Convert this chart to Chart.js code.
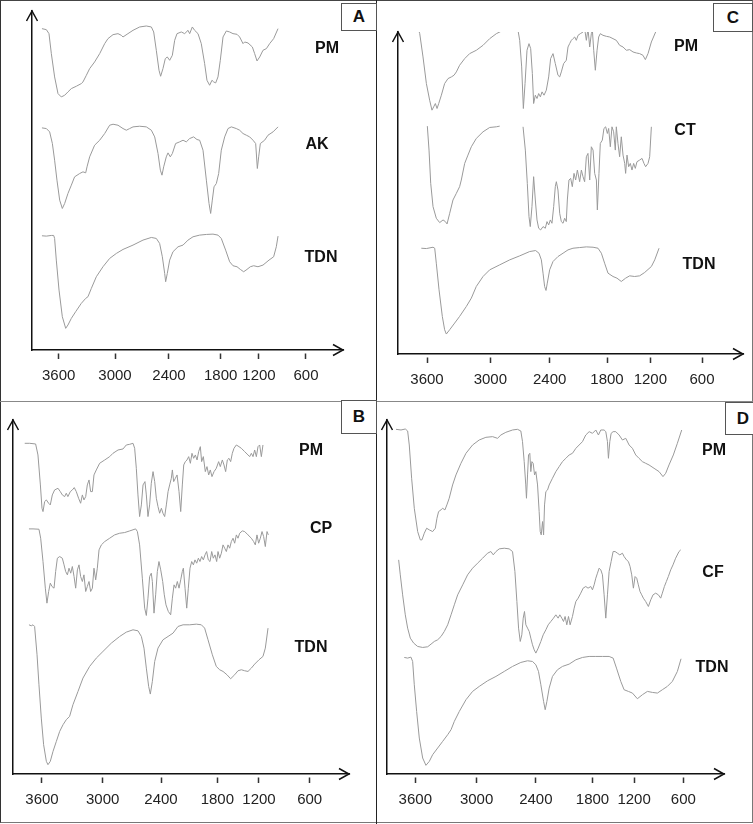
<!DOCTYPE html>
<html>
<head>
<meta charset="utf-8">
<script src="https://cdn.jsdelivr.net/npm/chart.js@4.4.1/dist/chart.umd.min.js"></script>
<style>
  html, body { margin: 0; padding: 0; background: #fff; }
  body { width: 753px; height: 824px; position: relative; overflow: hidden; font-family: "Liberation Sans", Arial, sans-serif; }
  canvas { position: absolute; }
  .line { position: absolute; }
  .name { position: absolute; font-weight: bold; font-size: 16px; color: #111; transform: translate(-50%, -50%); white-space: nowrap; }
  .box { position: absolute; box-sizing: border-box; border: 1px solid #555; background: #fff; font-weight: bold; font-size: 17px; color: #111; display: flex; align-items: center; justify-content: center; }
</style>
</head>
<body>
<div class="line" style="left:0;top:0;width:751px;height:821px;border:1px solid #777;border-left-color:#333;border-top-color:#444;"></div>
<div class="line" style="left:376px;top:0;width:1px;height:824px;background:#222;"></div>
<div class="line" style="left:0;top:401px;width:753px;height:1px;background:#888;"></div>

<canvas id="chartA" width="376" height="400" style="left:0;top:0;"></canvas>
<canvas id="chartC" width="377" height="400" style="left:376px;top:0;"></canvas>
<canvas id="chartB" width="376" height="420" style="left:0;top:402px;"></canvas>
<canvas id="chartD" width="376" height="420" style="left:377px;top:402px;"></canvas>

<div class="box" style="left:341px;top:3px;width:36px;height:28px;">A</div>
<div class="box" style="left:713px;top:3px;width:40px;height:29px;">C</div>
<div class="box" style="left:341px;top:400px;width:36px;height:34px;">B</div>
<div class="box" style="left:725px;top:402px;width:36px;height:33px;">D</div>

<div class="name" style="left:327px;top:48px;">PM</div>
<div class="name" style="left:317px;top:144px;">AK</div>
<div class="name" style="left:321px;top:257px;">TDN</div>
<div class="name" style="left:686px;top:46px;">PM</div>
<div class="name" style="left:685px;top:130px;">CT</div>
<div class="name" style="left:699px;top:264px;">TDN</div>
<div class="name" style="left:311px;top:450px;">PM</div>
<div class="name" style="left:321px;top:528px;">CP</div>
<div class="name" style="left:311px;top:647px;">TDN</div>
<div class="name" style="left:714px;top:450px;">PM</div>
<div class="name" style="left:713px;top:572px;">CF</div>
<div class="name" style="left:712px;top:667px;">TDN</div>

<script>
// wavenumber tick labels (cm-1), same on all four panels
const tickLabels = [3600, 3000, 2400, 1800, 1200, 600];

// spectra: [wavenumber, transmittance (a.u., offset stack)]
// Panel A
const A_PM = [[3778,96.5],[3731,96.2],[3703,95.0],[3678,89.0],[3643,82.0],[3607,77.0],[3572,76.0],[3536,76.5],[3501,77.5],[3465,78.5],[3412,79.2],[3359,80.0],[3341,80.5],[3305,82.5],[3270,84.5],[3217,86.5],[3163,89.0],[3110,92.0],[3075,93.5],[3021,94.7],[2967,95.0],[2930,94.5],[2911,94.0],[2856,95.0],[2800,96.0],[2726,97.0],[2652,97.3],[2596,97.0],[2570,95.5],[2541,90.0],[2511,84.0],[2493,82.2],[2467,84.5],[2441,87.5],[2419,88.0],[2392,87.0],[2361,88.5],[2334,93.0],[2307,95.0],[2257,95.5],[2218,95.0],[2179,96.0],[2160,95.0],[2129,97.0],[2102,96.0],[2063,95.0],[2025,92.0],[1986,86.0],[1959,81.0],[1928,79.5],[1901,81.0],[1881,80.5],[1858,80.2],[1831,82.0],[1804,87.0],[1763,94.0],[1711,95.8],[1659,95.5],[1607,95.0],[1544,94.8],[1503,94.0],[1450,92.0],[1424,92.5],[1372,92.2],[1304,91.0],[1268,89.0],[1231,86.8],[1191,88.0],[1149,90.0],[1106,90.5],[1064,92.0],[1013,93.5],[957,96.5]];
const A_AK = [[3778,66.7],[3731,66.5],[3696,65.5],[3667,62.0],[3643,57.0],[3618,51.0],[3589,45.0],[3561,42.5],[3536,44.0],[3501,47.0],[3465,49.5],[3430,52.0],[3376,53.0],[3341,53.5],[3312,53.2],[3298,55.0],[3270,58.0],[3217,61.5],[3163,63.0],[3110,65.0],[3057,67.5],[3021,67.8],[2967,67.5],[2911,66.5],[2874,66.0],[2837,66.5],[2800,67.0],[2726,67.2],[2652,67.0],[2596,66.0],[2559,64.0],[2522,59.0],[2496,54.0],[2478,52.5],[2459,55.0],[2430,58.0],[2411,59.2],[2385,58.0],[2361,59.0],[2323,62.0],[2276,62.5],[2237,63.0],[2199,62.5],[2160,63.5],[2114,64.0],[2075,63.2],[2044,63.0],[2005,60.0],[1966,51.0],[1935,44.0],[1916,41.0],[1897,45.0],[1877,49.0],[1850,50.0],[1823,53.0],[1790,60.0],[1737,64.0],[1685,66.5],[1633,67.0],[1555,66.5],[1503,66.0],[1450,65.0],[1398,64.5],[1346,64.0],[1294,63.0],[1252,62.0],[1226,54.5],[1205,58.0],[1183,62.0],[1128,63.0],[1085,64.5],[1021,65.5],[957,67.0]];
const A_TDN = [[3778,34.3],[3731,34.2],[3678,34.4],[3653,34.4],[3643,33.5],[3625,27.0],[3596,18.0],[3561,10.0],[3525,6.5],[3501,7.5],[3465,9.5],[3419,11.5],[3359,14.0],[3312,15.5],[3288,16.0],[3252,18.5],[3199,22.0],[3128,25.0],[3057,27.5],[2985,29.0],[2911,30.2],[2800,31.5],[2689,33.0],[2596,33.8],[2541,33.5],[2504,32.0],[2474,28.0],[2448,23.0],[2437,20.5],[2419,23.0],[2392,27.0],[2354,29.5],[2295,31.0],[2237,31.5],[2179,33.0],[2121,34.0],[2044,34.5],[1966,34.7],[1889,34.8],[1831,34.5],[1790,33.5],[1722,30.0],[1659,26.5],[1607,25.3],[1544,25.0],[1492,24.2],[1440,23.5],[1388,24.2],[1336,25.0],[1283,25.3],[1216,25.0],[1149,25.5],[1072,27.0],[1013,28.0],[979,31.0],[957,34.2]];

// Panel C
const C_PM = [[3723,98.1],[3685,98.0],[3669,96.3],[3638,89.3],[3606,81.3],[3575,76.3],[3553,73.3],[3537,74.3],[3521,75.3],[3505,73.8],[3489,75.3],[3464,77.8],[3433,81.3],[3401,82.8],[3369,83.3],[3344,83.8],[3322,84.8],[3291,86.8],[3243,88.8],[3196,90.3],[3133,91.3],[3069,92.8],[3006,94.8],[2939,96.3],[2872,97.3],[2804,97.1],[2754,97.8],[2720,97.3],[2703,94.3],[2683,86.3],[2666,73.8],[2649,81.3],[2629,91.3],[2609,93.3],[2592,91.8],[2575,84.3],[2562,75.3],[2545,77.8],[2528,76.8],[2511,78.3],[2494,77.3],[2477,78.8],[2457,77.8],[2434,79.3],[2410,83.3],[2390,88.8],[2365,90.3],[2341,87.3],[2313,83.8],[2295,83.3],[2278,84.8],[2254,87.3],[2226,88.3],[2208,92.3],[2191,93.3],[2173,94.3],[2156,94.8],[2138,95.3],[2121,94.3],[2103,95.8],[2079,96.3],[2051,96.8],[2034,97.8],[2016,94.3],[1999,97.8],[1981,92.3],[1964,96.3],[1953,97.3],[1939,91.3],[1922,85.3],[1904,91.3],[1887,95.3],[1870,96.3],[1842,95.8],[1807,95.5],[1763,95.3],[1717,94.8],[1671,94.3],[1625,92.8],[1578,92.3],[1532,91.3],[1486,91.5],[1440,90.8],[1394,90.5],[1348,90.3],[1302,89.8],[1269,88.5],[1232,90.3],[1188,93.8],[1130,97.3]];
const C_CT = [[3597,68.5],[3581,61.3],[3565,51.3],[3543,44.3],[3512,40.8],[3480,39.5],[3448,40.3],[3426,39.8],[3410,39.1],[3385,42.3],[3354,46.3],[3322,48.3],[3291,50.3],[3275,52.3],[3243,57.3],[3212,59.8],[3180,62.3],[3133,64.8],[3069,66.8],[3006,68.1],[2939,68.3],[2905,68.5],[2790,null],[2669,68.3],[2646,61.3],[2626,51.3],[2609,41.3],[2596,38.3],[2579,44.3],[2562,53.3],[2545,46.3],[2528,40.3],[2511,37.8],[2491,37.3],[2467,38.3],[2444,37.8],[2427,39.8],[2410,38.8],[2393,40.3],[2376,39.3],[2358,44.3],[2341,50.3],[2330,51.8],[2313,49.3],[2295,42.3],[2278,39.8],[2260,39.3],[2243,40.8],[2226,39.8],[2215,46.3],[2198,52.3],[2180,52.8],[2163,50.3],[2145,54.3],[2128,52.3],[2110,55.3],[2086,51.8],[2068,55.3],[2051,53.3],[2034,51.8],[2016,59.3],[1999,60.3],[1981,52.3],[1964,62.3],[1946,61.3],[1929,54.3],[1911,52.3],[1901,43.3],[1884,54.3],[1870,63.3],[1849,64.3],[1832,67.8],[1814,68.3],[1795,66.3],[1777,67.8],[1754,62.3],[1731,68.3],[1708,66.8],[1685,61.3],[1671,68.3],[1648,63.3],[1625,59.3],[1602,65.3],[1578,59.8],[1555,57.3],[1542,54.3],[1523,59.8],[1500,56.3],[1477,57.3],[1454,55.3],[1431,57.3],[1408,55.8],[1385,57.8],[1348,58.3],[1315,58.8],[1288,57.3],[1265,56.3],[1232,57.3],[1209,59.3],[1188,68.3]];
const C_TDN = [[3654,31.8],[3606,31.7],[3543,32.1],[3527,31.8],[3512,27.3],[3486,19.3],[3455,11.3],[3433,7.3],[3417,6.0],[3385,7.3],[3338,9.3],[3291,11.3],[3227,14.3],[3180,16.8],[3133,20.3],[3069,23.3],[3006,25.3],[2905,26.8],[2804,28.3],[2703,29.5],[2602,30.8],[2542,31.1],[2508,30.3],[2484,28.3],[2467,24.3],[2451,20.3],[2437,19.1],[2424,21.3],[2400,25.3],[2365,27.8],[2313,29.3],[2260,30.3],[2208,31.3],[2156,31.8],[2086,32.0],[2016,32.2],[1946,32.1],[1894,31.8],[1859,30.3],[1825,27.3],[1786,24.3],[1717,23.3],[1662,22.8],[1602,21.8],[1542,22.8],[1486,23.5],[1417,23.3],[1348,23.5],[1279,24.5],[1188,26.3],[1149,28.3],[1099,31.8]];

// Panel B
const B_PM = [[3771,99.3],[3722,99.3],[3663,99.1],[3640,95.8],[3616,86.8],[3600,79.8],[3590,78.8],[3574,81.8],[3557,82.3],[3534,81.3],[3518,80.8],[3498,83.8],[3475,85.3],[3442,85.8],[3419,84.8],[3399,83.8],[3376,83.3],[3360,84.3],[3344,83.3],[3320,84.8],[3300,85.3],[3281,86.0],[3261,84.8],[3238,82.8],[3218,81.3],[3201,83.8],[3185,82.3],[3168,83.3],[3152,86.8],[3135,88.3],[3119,84.8],[3102,84.8],[3086,89.8],[3063,91.3],[3030,93.3],[2979,94.3],[2928,95.3],[2894,96.3],[2842,97.3],[2791,97.6],[2757,98.8],[2722,99.0],[2688,99.3],[2671,97.8],[2654,91.8],[2637,83.8],[2620,77.3],[2602,80.8],[2585,86.8],[2565,87.8],[2551,83.8],[2534,77.3],[2517,80.8],[2500,87.3],[2482,90.8],[2465,87.8],[2448,82.8],[2431,80.3],[2414,78.3],[2396,79.8],[2379,78.3],[2361,77.3],[2343,80.8],[2325,84.8],[2308,86.8],[2290,88.8],[2279,91.3],[2265,87.8],[2247,88.8],[2229,89.8],[2208,84.8],[2190,78.8],[2173,86.8],[2158,92.8],[2141,93.8],[2123,94.3],[2105,95.3],[2087,93.3],[2070,96.3],[2052,94.8],[2034,95.8],[2016,94.3],[1999,96.8],[1981,98.3],[1967,93.8],[1949,95.3],[1928,90.8],[1910,92.3],[1892,89.8],[1875,91.3],[1857,89.3],[1835,90.8],[1811,91.8],[1781,93.8],[1757,92.3],[1728,94.3],[1704,92.8],[1680,90.8],[1656,94.3],[1632,94.8],[1608,93.8],[1584,96.3],[1560,97.8],[1526,98.8],[1488,98.3],[1454,97.8],[1406,96.8],[1358,95.8],[1334,95.3],[1310,96.3],[1286,95.3],[1262,97.3],[1238,95.3],[1214,98.3],[1192,98.8],[1172,95.3],[1153,98.8]];
const B_CP = [[3729,73.6],[3689,73.6],[3630,73.5],[3613,70.8],[3590,63.8],[3567,55.8],[3551,51.3],[3534,54.8],[3518,57.3],[3501,56.3],[3481,55.8],[3465,60.8],[3448,64.8],[3425,65.3],[3399,64.8],[3382,62.8],[3366,60.8],[3349,59.8],[3333,61.8],[3316,60.3],[3300,62.3],[3283,59.3],[3267,55.8],[3250,61.3],[3234,62.8],[3218,59.3],[3201,57.8],[3185,59.8],[3168,54.8],[3152,56.3],[3135,57.8],[3119,54.8],[3102,55.8],[3086,61.8],[3069,58.3],[3053,61.8],[3036,67.3],[3013,68.8],[2979,69.8],[2928,70.8],[2877,71.8],[2825,72.3],[2774,72.5],[2722,73.0],[2661,73.6],[2643,72.8],[2620,68.8],[2592,58.8],[2568,49.8],[2551,47.6],[2534,52.8],[2517,59.3],[2500,60.3],[2489,57.8],[2472,48.3],[2455,53.8],[2438,60.8],[2421,63.8],[2403,61.3],[2382,57.8],[2365,53.8],[2347,50.8],[2322,48.8],[2297,47.8],[2279,52.8],[2261,56.8],[2244,55.8],[2226,57.8],[2208,55.8],[2190,58.3],[2173,60.8],[2162,61.8],[2144,55.8],[2126,49.8],[2109,55.8],[2091,61.8],[2073,63.8],[2055,62.8],[2038,64.3],[2020,63.3],[2002,64.8],[1985,63.8],[1967,65.3],[1949,64.3],[1931,65.8],[1914,66.8],[1896,64.3],[1878,63.8],[1860,66.8],[1843,64.8],[1825,65.8],[1807,63.8],[1790,66.8],[1766,64.8],[1742,66.3],[1718,68.8],[1694,67.8],[1670,66.8],[1646,68.8],[1622,67.8],[1598,69.8],[1574,70.8],[1550,69.3],[1526,71.8],[1502,70.8],[1478,72.3],[1440,73.0],[1406,72.8],[1358,71.8],[1310,70.8],[1277,69.8],[1253,68.8],[1229,71.8],[1205,69.3],[1184,70.8],[1164,72.8],[1145,71.3],[1125,68.3],[1105,72.8],[1089,71.8]];
const B_TDN = [[3729,44.8],[3706,44.5],[3689,44.8],[3673,44.3],[3649,35.8],[3630,26.8],[3607,16.8],[3584,8.8],[3557,3.8],[3541,2.8],[3518,3.8],[3491,6.8],[3458,9.8],[3425,12.8],[3392,14.8],[3360,16.3],[3327,17.3],[3294,20.8],[3244,24.8],[3195,28.8],[3129,32.3],[3063,34.8],[2997,36.8],[2911,39.3],[2825,41.3],[2757,42.6],[2688,43.3],[2637,43.0],[2602,41.3],[2575,37.8],[2551,31.8],[2527,26.3],[2510,24.0],[2489,27.8],[2465,33.8],[2431,37.8],[2379,40.3],[2325,41.3],[2272,42.3],[2219,44.3],[2165,44.8],[2094,44.8],[2024,45.0],[1970,44.8],[1935,43.8],[1899,40.3],[1853,35.8],[1811,32.3],[1766,31.3],[1718,30.8],[1661,29.8],[1608,28.6],[1550,29.8],[1502,31.0],[1454,31.3],[1406,31.0],[1358,30.8],[1310,31.8],[1262,33.0],[1200,34.3],[1153,35.3],[1125,37.8],[1093,43.8]];

// Panel D
const D_PM = [[3789,103.5],[3740,103.3],[3698,103.6],[3675,103.0],[3659,98.8],[3636,88.8],[3610,79.8],[3577,72.8],[3551,70.3],[3535,70.3],[3512,72.3],[3489,73.8],[3463,73.3],[3430,72.8],[3404,73.8],[3388,76.8],[3372,78.8],[3349,79.3],[3333,79.8],[3310,79.3],[3291,80.8],[3268,82.8],[3235,86.8],[3202,89.8],[3153,93.3],[3104,96.3],[3039,98.8],[2973,100.3],[2906,101.1],[2838,101.3],[2788,100.8],[2754,101.8],[2704,102.6],[2636,103.3],[2586,103.5],[2552,103.0],[2535,99.8],[2518,93.8],[2502,86.8],[2495,82.8],[2484,89.8],[2474,95.8],[2461,96.3],[2451,90.8],[2440,93.8],[2427,93.3],[2413,89.8],[2400,90.8],[2382,86.8],[2365,78.8],[2354,72.8],[2343,71.8],[2329,75.8],[2318,71.8],[2308,80.8],[2294,84.8],[2276,85.3],[2259,86.8],[2224,88.8],[2188,90.8],[2153,92.3],[2118,93.8],[2082,94.8],[2047,95.8],[2012,96.3],[1976,97.8],[1941,98.8],[1906,99.8],[1871,101.8],[1835,102.8],[1800,102.3],[1752,103.3],[1714,101.8],[1680,103.3],[1632,103.3],[1608,102.8],[1584,99.8],[1570,94.8],[1550,99.8],[1531,102.3],[1502,102.8],[1464,102.8],[1416,101.8],[1368,100.3],[1320,100.8],[1272,98.8],[1224,97.8],[1180,95.8],[1140,94.8],[1099,93.8],[1059,93.3],[1018,92.8],[957,91.8],[896,90.8],[848,89.3],[815,90.3],[775,92.8],[722,95.8],[673,99.3],[620,103.3]];
const D_CF = [[3763,64.3],[3747,59.8],[3724,53.8],[3698,47.8],[3675,43.8],[3649,40.8],[3616,39.3],[3577,38.3],[3528,38.0],[3479,38.2],[3446,39.0],[3414,39.8],[3381,40.3],[3348,41.3],[3316,42.8],[3283,44.8],[3250,47.8],[3218,50.8],[3185,53.8],[3136,56.8],[3088,59.8],[3039,61.8],[2990,63.3],[2939,64.8],[2889,66.3],[2855,66.8],[2831,65.8],[2804,66.8],[2771,67.6],[2720,67.8],[2670,67.6],[2636,66.8],[2612,60.8],[2592,51.8],[2575,43.8],[2558,39.8],[2542,41.8],[2528,46.8],[2515,48.8],[2501,44.8],[2484,43.8],[2467,42.8],[2451,40.8],[2434,38.8],[2417,37.3],[2400,36.3],[2375,37.8],[2347,39.8],[2322,41.8],[2294,43.3],[2269,44.8],[2241,45.8],[2213,46.8],[2188,47.8],[2164,46.8],[2146,47.8],[2125,46.8],[2107,45.8],[2090,47.3],[2072,44.8],[2054,47.3],[2037,44.8],[2012,47.3],[1994,49.8],[1976,51.8],[1952,52.8],[1924,54.3],[1899,55.8],[1871,56.3],[1847,55.8],[1818,56.3],[1800,55.3],[1776,56.8],[1752,58.8],[1728,60.3],[1704,61.8],[1680,61.3],[1656,59.8],[1632,53.8],[1608,46.8],[1584,53.8],[1560,60.8],[1531,63.8],[1502,66.8],[1474,66.8],[1440,66.3],[1406,65.8],[1368,66.3],[1344,65.3],[1310,64.3],[1282,63.8],[1258,62.3],[1234,59.8],[1210,55.8],[1188,59.3],[1168,58.8],[1148,56.8],[1128,54.8],[1107,53.8],[1087,52.8],[1059,51.8],[1026,50.3],[997,52.3],[969,53.8],[937,54.3],[904,53.8],[876,52.8],[856,54.3],[831,56.3],[807,57.8],[783,59.3],[754,61.3],[726,62.8],[694,64.8],[653,66.8],[632,67.3]];
const D_TDN = [[3708,35.0],[3675,34.8],[3643,35.1],[3626,33.8],[3610,26.8],[3587,18.8],[3561,10.8],[3528,4.8],[3496,2.6],[3463,3.8],[3430,5.8],[3381,7.8],[3332,9.8],[3283,11.8],[3250,13.3],[3218,15.8],[3169,18.8],[3104,22.3],[3039,24.8],[2973,26.3],[2888,28.0],[2804,29.3],[2720,30.8],[2636,32.3],[2552,33.5],[2484,34.0],[2434,33.8],[2400,32.8],[2372,30.8],[2347,26.8],[2318,21.8],[2301,19.3],[2283,21.8],[2259,25.8],[2224,29.3],[2171,31.3],[2118,32.3],[2047,33.0],[1976,34.3],[1906,35.0],[1835,35.3],[1752,35.3],[1656,35.3],[1560,35.3],[1502,34.8],[1454,31.8],[1392,27.8],[1344,25.3],[1282,24.8],[1224,24.3],[1160,22.6],[1099,23.8],[1038,24.8],[977,24.5],[916,24.3],[856,25.3],[795,26.3],[734,27.8],[673,30.8],[628,34.6]];

// hand-drawn axes: where each tick sits along the axis (0 = y-axis, 1 = arrow tip)
const panelAxis = {
  chartA: { wnLeft: 3884, wnRight: 128, tickPos: [0.0857, 0.2669, 0.4405, 0.6066, 0.7299, 0.8810], yMax: 101.8, pad: { left: 32, top: 11, right: 33, bottom: 10 } },
  chartC: { wnLeft: 3875, wnRight: 124, tickPos: [0.0841, 0.2676, 0.4396, 0.6058, 0.7314, 0.8812], yMax: 96.8, pad: { left: 22, top: 32, right: 10, bottom: 6 } },
  chartB: { wnLeft: 3887, wnRight: 134, tickPos: [0.0863, 0.2669, 0.4405, 0.6081, 0.7321, 0.8829], yMax: 106.3, pad: { left: 13, top: 18, right: 27, bottom: 8 } },
  chartD: { wnLeft: 3877, wnRight: 105, tickPos: [0.0840, 0.2658, 0.4417, 0.6097, 0.7332, 0.8794], yMax: 106.3, pad: { left: 10, top: 18, right: 29, bottom: 8 } },
};

// piecewise-linear wavenumber axis, so the ticks land where the drawn ones are
class KnotScale extends Chart.LinearScale {
  buildTicks() {
    return tickLabels.map((v) => ({ value: v }));
  }
  getPixelForValue(value) {
    const ax = panelAxis[this.chart.canvas.id];
    const pts = [[ax.wnLeft, 0]].concat(tickLabels.map((v, i) => [v, ax.tickPos[i]]), [[ax.wnRight, 1]]);
    let i = 0;
    while (i < pts.length - 2 && value < pts[i + 1][0]) i++;
    const [v0, f0] = pts[i];
    const [v1, f1] = pts[i + 1];
    const f = f0 + ((value - v0) / (v1 - v0)) * (f1 - f0);
    return this.getPixelForDecimal(f);
  }
}
KnotScale.id = "knots";
KnotScale.defaults = Chart.LinearScale.defaults;
Chart.register(KnotScale);

const arrows = {
  id: "arrows",
  afterDraw(chart) {
    const { ctx, chartArea } = chart;
    const { left, top, right, bottom } = chartArea;
    ctx.save();
    ctx.strokeStyle = "#111";
    ctx.lineWidth = 1.5;
    ctx.beginPath();
    ctx.moveTo(left - 5.5, top + 10);
    ctx.lineTo(left, top);
    ctx.lineTo(left + 5.5, top + 10);
    ctx.moveTo(right - 10, bottom - 5.5);
    ctx.lineTo(right, bottom);
    ctx.lineTo(right - 10, bottom + 5.5);
    ctx.stroke();
    ctx.restore();
  },
};

function toXY(arr) {
  return arr.map(([x, y]) => ({ x: x, y: y }));
}

function makePanel(id, spectra) {
  const ax = panelAxis[id];
  new Chart(document.getElementById(id).getContext("2d"), {
    type: "line",
    data: {
      datasets: spectra.map((s) => ({
        data: toXY(s),
        borderColor: "#9a9a9a",
        borderWidth: 1,
        pointRadius: 0,
        tension: 0,
        spanGaps: false,
        fill: false,
      })),
    },
    options: {
      responsive: false,
      animation: false,
      events: [],
      layout: { padding: ax.pad },
      plugins: { legend: { display: false }, tooltip: { enabled: false } },
      scales: {
        x: {
          type: "knots",
          min: ax.wnRight,
          max: ax.wnLeft,
          border: { display: true, color: "#111", width: 1.5 },
          grid: {
            display: true,
            drawOnChartArea: false,
            drawTicks: true,
            tickLength: 9,
            tickColor: "#333",
            tickWidth: 1.5,
            tickBorderDash: [0, 3, 6, 20],
          },
          ticks: {
            autoSkip: false,
            maxRotation: 0,
            minRotation: 0,
            padding: 8,
            color: "#222",
            font: { family: "'Liberation Sans', Arial, sans-serif", size: 15 },
            callback: (v) => String(v),
          },
          afterFit: (s) => {
            s.height = 40;
          },
        },
        y: {
          type: "linear",
          min: 0,
          max: ax.yMax,
          border: { display: true, color: "#111", width: 1.5 },
          grid: { display: false, drawTicks: false },
          ticks: { display: false },
          afterFit: (s) => {
            s.width = 0;
          },
        },
      },
    },
    plugins: [arrows],
  });
}

makePanel("chartA", [A_PM, A_AK, A_TDN]);
makePanel("chartC", [C_PM, C_CT, C_TDN]);
makePanel("chartB", [B_PM, B_CP, B_TDN]);
makePanel("chartD", [D_PM, D_CF, D_TDN]);
</script>
</body>
</html>
